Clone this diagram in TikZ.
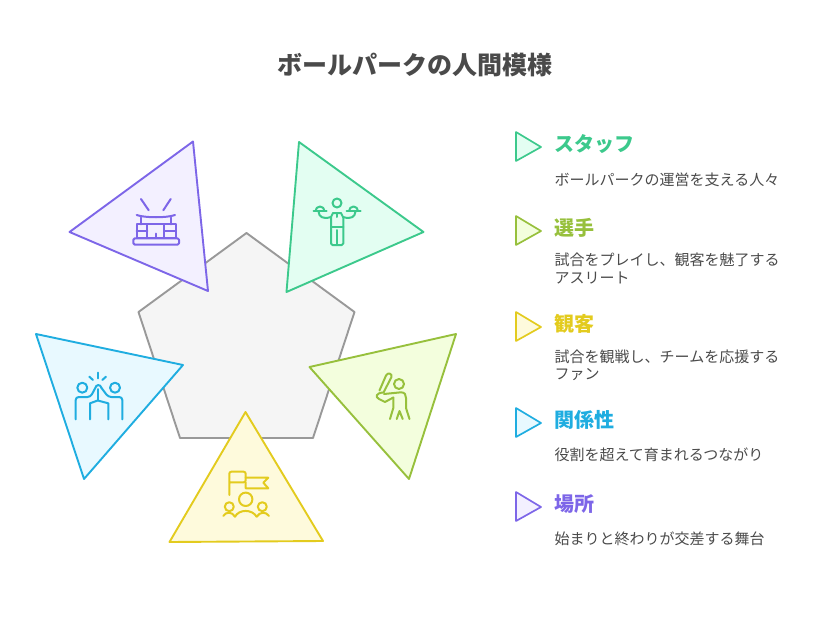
\documentclass[tikz,border=0pt]{standalone}
\usepackage{fontspec}
\setmainfont{Noto Sans CJK JP}
\usepackage{xcolor}
\usetikzlibrary{positioning}
\definecolor{inkText}{HTML}{4A4A4A}
\definecolor{staffLine}{HTML}{3CC98C}
\definecolor{staffFill}{HTML}{E3FEF2}
\definecolor{playerLine}{HTML}{97C03C}
\definecolor{playerFill}{HTML}{F3FEDD}
\definecolor{fanLine}{HTML}{E3CB1E}
\definecolor{fanFill}{HTML}{FEFADC}
\definecolor{bondLine}{HTML}{1FADE0}
\definecolor{bondFill}{HTML}{E8F9FF}
\definecolor{placeLine}{HTML}{7D66E8}
\definecolor{placeFill}{HTML}{F3F0FF}
\tikzset{
  titleLabel/.style={
    text=inkText,
    font=\fontsize{25}{30}\selectfont\bfseries,
    inner sep=0pt
  },
  headLabel/.style={
    anchor=base west,
    font=\fontsize{20}{24}\selectfont\bfseries,
    inner sep=0pt
  },
  bodyLabel/.style={
    anchor=base west,
    text=inkText,
    align=left,
    font=\fontsize{15}{18}\selectfont,
    inner sep=0pt
  },
  triangleShape/.style={
    line width=1.9pt,
    line join=round
  },
  legendShape/.style={
    line width=1.7pt,
    line join=round
  },
  iconLine/.style={
    line width=2pt,
    line cap=round,
    line join=round
  }
}
\begin{document}
\begin{tikzpicture}[x=1pt,y=-1pt]
  \useasboundingbox (0,0) rectangle (828,624);
  \node[titleLabel] (title) at (414.5,65) {ボールパークの人間模様};

  % centre
  \draw[draw=black!40,fill=black!4,line width=1.9pt,line join=round]
    (246.5,233) -- (354.5,312) -- (313,438) -- (180,438) -- (138.5,312) -- cycle;

  % triangles
  \draw[triangleShape,draw=placeLine,fill=placeFill] (193,141.5) -- (69.5,232) -- (208,291) -- cycle;
  \draw[triangleShape,draw=staffLine,fill=staffFill] (299,142) -- (423.5,232) -- (286.5,292) -- cycle;
  \draw[triangleShape,draw=playerLine,fill=playerFill] (456,334) -- (309.5,367) -- (409,479) -- cycle;
  \draw[triangleShape,draw=bondLine,fill=bondFill] (36,334) -- (183,365) -- (84,479) -- cycle;
  \draw[triangleShape,draw=fanLine,fill=fanFill] (245.5,412) -- (169.5,542) -- (323,541) -- cycle;

  % stadium icon
  \begin{scope}[iconLine,draw=placeLine]
    \draw (141,199) -- (148.7,210.3);
    \draw (170.7,199) -- (163.3,210.3);
    \draw (136.7,215) .. controls (145,218) and (167,218) .. (175,215);
    \draw (141,217.5) -- (141,224.3);
    \draw (171,217.5) -- (171,224.3);
    \draw (136.7,224.3) rectangle (175.7,238);
    \draw (136.7,231) -- (147.3,231);
    \draw (164,231) -- (175.7,231);
    \draw (147.3,224.3) -- (147.3,238);
    \draw (164,224.3) -- (164,238);
    \draw (155.7,233.5) -- (155.7,238);
    \draw[rounded corners=1.5pt] (133.3,238.3) rectangle (179,244.7);
  \end{scope}

  % waiter icon
  \begin{scope}[iconLine,draw=staffLine]
    \draw (337,203) circle (4.5);
    \draw (313.5,211) -- (326.7,211);
    \draw (346.7,211) -- (360.7,211);
    \draw (315.5,211) arc[start angle=180,end angle=360,radius=4.5];
    \draw (349,211) arc[start angle=180,end angle=360,radius=4.5];
    \draw (318.5,211.5) .. controls (319,217) and (323,219.5) .. (331,217) -- (333,213) -- (341,213) -- (343,217) .. controls (351,219.5) and (355,217) .. (355.5,211.5);
    \draw[rounded corners=1.5pt] (331,217) -- (331,245) -- (343.3,245) -- (343.3,217);
    \draw (331,227) -- (343.3,227);
    \draw (337,230) -- (337,245);
    \draw (337,213.5) -- (337,217);
  \end{scope}

  % batter icon
  \begin{scope}[iconLine,draw=playerLine]
    \draw (399,384) circle (5);
    \draw (379.5,390.5) -- (386,375.5) .. controls (387.5,372) and (392.5,373.5) .. (391.5,377) -- (383.5,392.5);
    \draw (384,394) -- (401,392.3) .. controls (405,392.3) and (406,395) .. (406,398) -- (406,408) -- (409.5,419);
    \draw (383,392.5) .. controls (376,393) and (375,397) .. (379,399) -- (385,402) -- (393.3,397.5);
    \draw (393.3,397.5) -- (393.3,408) -- (390,419);
    \draw (396.7,419) -- (399.5,411) -- (402.7,419);
  \end{scope}

  % crowd icon
  \begin{scope}[iconLine,draw=fanLine]
    \draw[rounded corners=2pt] (229.3,495) -- (229.3,471.7) -- (245.7,471.7) -- (245.7,482.3) -- (229.3,482.3);
    \draw (245.7,477.7) -- (268.3,477.7) -- (263.3,482.7) -- (268.3,488.3) -- (245.7,488.3) -- (245.7,482.3);
    \draw (245.7,499.3) circle (6.7);
    \draw (229.3,506.7) circle (4.5);
    \draw (262.3,506.7) circle (4.5);
    \draw (235,516.7) .. controls (239,509) and (252,509) .. (256.7,516.7);
    \draw (223.3,516) .. controls (226,511.5) and (232,511.5) .. (235,516.7);
    \draw (256.7,516.7) .. controls (260,511.5) and (266,511.5) .. (269,516);
  \end{scope}

  % high five icon
  \begin{scope}[iconLine,draw=bondLine]
    \draw (82.3,387.7) circle (5);
    \draw (115,387.7) circle (5);
    \draw (97.7,372.7) -- (97.7,378.3);
    \draw (89.3,376.7) -- (93,380);
    \draw (106,376.7) -- (102.3,380);
    \draw[rounded corners=3pt] (75.7,419.3) -- (75.7,397) -- (90.5,397) -- (95,388.5);
    \draw (95,388.5) .. controls (96,384) and (100.5,384) .. (101.5,388);
    \draw[rounded corners=3pt] (122.3,419.3) -- (122.3,397) -- (108.3,397) -- (101.5,388);
    \draw (90,419.3) -- (90,403.3) -- (97.7,400.5) -- (108.3,403.3) -- (108.3,419.3);
    \draw (97.7,389) -- (97.7,400.5);
  \end{scope}

  % legend
  \draw[legendShape,draw=staffLine,fill=staffFill] (516,132) -- (541,147) -- (516,161) -- cycle;
  \draw[legendShape,draw=playerLine,fill=playerFill] (516,216) -- (541,231) -- (516,245) -- cycle;
  \draw[legendShape,draw=fanLine,fill=fanFill] (516,312) -- (541,327) -- (516,341) -- cycle;
  \draw[legendShape,draw=bondLine,fill=bondFill] (516,408) -- (541,423) -- (516,437) -- cycle;
  \draw[legendShape,draw=placeLine,fill=placeFill] (516,492) -- (541,507) -- (516,521) -- cycle;

  \node[headLabel,text=staffLine] (staffHead) at (554.5,151) {スタッフ};
  \node[bodyLabel] (staffBody) at (554.5,185) {ボールパークの運営を支える人々};
  \node[headLabel,text=playerLine] (playerHead) at (554.5,235) {選手};
  \node[bodyLabel] (playerBody) at (554.5,265.5) {試合をプレイし、観客を魅了する};
  \node[bodyLabel] (playerMore) at (554.5,283.5) {アスリート};
  \node[headLabel,text=fanLine] (fanHead) at (554.5,331) {観客};
  \node[bodyLabel] (fanBody) at (554.5,362) {試合を観戦し、チームを応援する};
  \node[bodyLabel] (fanMore) at (554.5,379.5) {ファン};
  \node[headLabel,text=bondLine] (bondHead) at (554.5,427) {関係性};
  \node[bodyLabel] (bondBody) at (554.5,460.5) {役割を超えて育まれるつながり};
  \node[headLabel,text=placeLine] (placeHead) at (554.5,511) {場所};
  \node[bodyLabel] (placeBody) at (554.5,544.5) {始まりと終わりが交差する舞台};
\end{tikzpicture}
\end{document}
